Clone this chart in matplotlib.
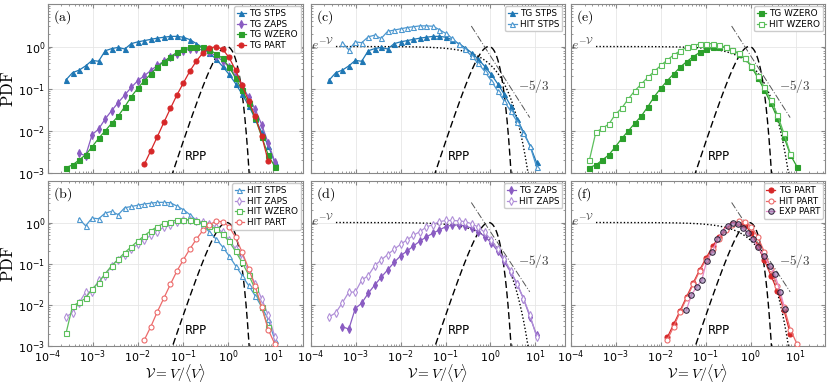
import numpy as np
import matplotlib
matplotlib.use('Agg')
import matplotlib.pyplot as plt

plt.rcParams['mathtext.fontset'] = 'cm'
plt.rcParams['font.family'] = ['DejaVu Sans']

# logarithmic bin centres shared by the simulation PDFs
bins = [2.57e-4, 3.58e-4, 5.00e-4, 6.97e-4, 9.71e-4, 1.35e-3, 1.89e-3, 2.63e-3,
        3.67e-3, 5.12e-3, 7.13e-3, 9.94e-3, 1.39e-2, 1.93e-2, 2.69e-2, 3.75e-2,
        5.24e-2, 7.30e-2, 0.102, 0.142, 0.198, 0.275, 0.384, 0.536, 0.747, 1.04,
        1.45, 2.02, 2.82, 3.94, 5.48, 7.64, 10.7, 14.9]

tg_stps_start = 0
tg_stps = [0.162, 0.240, 0.275, 0.347, 0.468, 0.447, 0.794, 0.891, 0.955, 0.871,
           1.17, 1.29, 1.38, 1.48, 1.58, 1.66, 1.74, 1.74, 1.66, 1.45, 1.17, 0.933,
           0.708, 0.501, 0.339, 0.219, 0.132, 0.0741, 0.0398, 0.0195, 0.00933,
           0.00447, 0.00178]

hit_stps_start = 2
hit_stps = [1.23, 0.83, 1.29, 1.23, 1.70, 1.86, 1.55, 2.29, 2.45, 2.63, 2.82, 2.95,
            3.09, 3.09, 3.02, 2.51, 2.04, 1.55, 1.12, 0.851, 0.589, 0.398, 0.257,
            0.155, 0.0891, 0.0513, 0.0295, 0.0166, 0.00891, 0.00447, 0.00141]

tg_zaps_start = 2
tg_zaps = [0.00295, 0.00257, 0.00813, 0.0110, 0.0191, 0.0302, 0.0468, 0.0708,
           0.107, 0.155, 0.204, 0.269, 0.355, 0.447, 0.550, 0.661, 0.794, 0.871,
           0.871, 0.832, 0.724, 0.603, 0.457, 0.324, 0.204, 0.117, 0.0631, 0.0324,
           0.0141, 0.00513, 0.00186]

hit_zaps_start = 0
hit_zaps = [0.00513, 0.00646, 0.0112, 0.0204, 0.0204, 0.0398, 0.0513, 0.0891,
            0.123, 0.166, 0.224, 0.295, 0.380, 0.490, 0.603, 0.776, 0.891, 1.05,
            1.12, 1.12, 1.10, 1.05, 0.933, 0.776, 0.575, 0.380, 0.229, 0.132,
            0.0676, 0.0324, 0.0141, 0.00562, 0.00170]

tg_wzero_start = 0
tg_wzero = [0.00135, 0.00155, 0.00204, 0.00269, 0.00417, 0.00661, 0.0100, 0.0151,
            0.0224, 0.0372, 0.0646, 0.102, 0.155, 0.224, 0.324, 0.437, 0.575, 0.724,
            0.871, 0.955, 1.00, 0.955, 0.832, 0.676, 0.525, 0.331, 0.178, 0.0933,
            0.0447, 0.0200, 0.00724, 0.00269, 0.00141]

hit_wzero_start = 0
hit_wzero = [0.00204, 0.00933, 0.0115, 0.0145, 0.0245, 0.0347, 0.0575, 0.0891,
             0.129, 0.186, 0.257, 0.355, 0.479, 0.631, 0.794, 0.955, 1.05, 1.15,
             1.17, 1.17, 1.10, 0.955, 0.832, 0.692, 0.525, 0.347, 0.200, 0.107,
             0.0537, 0.0240, 0.00871, 0.00282]

tg_part_start = 12
tg_part = [0.00162, 0.00339, 0.00724, 0.0158, 0.0339, 0.0708, 0.138, 0.263, 0.457,
           0.708, 0.933, 0.98, 0.87, 0.550, 0.275, 0.120, 0.0513, 0.0219, 0.00759,
           0.00191]

hit_part_start = 12
hit_part = [0.00141, 0.00295, 0.00676, 0.0145, 0.0316, 0.0661, 0.126, 0.229, 0.398,
            0.646, 0.891, 1.07, 1.05, 0.794, 0.437, 0.191, 0.0759, 0.0282, 0.00891,
            0.00251, 0.00112]

exp_part_x = [0.0369, 0.0478, 0.0630, 0.0813, 0.105, 0.141, 0.182, 0.236, 0.305,
              0.395, 0.512, 0.662, 0.857, 1.11, 1.44, 1.95, 2.62, 3.39, 4.54, 5.68]
exp_part = [0.00741, 0.0174, 0.0275, 0.0398, 0.117, 0.195, 0.389, 0.603, 0.832,
            0.955, 0.933, 0.724, 0.550, 0.389, 0.251, 0.155, 0.0891, 0.0562,
            0.0209, 0.00813]

# model curves parameters
rpp_peak_x = 0.92
rpp_m = 3.23
rpp_c = 1.60
slope_coef = 0.6

styles = {
    'TG STPS':   dict(color='#1f77b4', marker='^', mfc='#1f77b4'),
    'HIT STPS':  dict(color='#4c97cf', marker='^', mfc='white'),
    'TG ZAPS':   dict(color='#8a5cc2', marker='d', mfc='#8a5cc2'),
    'HIT ZAPS':  dict(color='#b08fd8', marker='d', mfc='white'),
    'TG WZERO':  dict(color='#2ca02c', marker='s', mfc='#2ca02c'),
    'HIT WZERO': dict(color='#5cbf5c', marker='s', mfc='white'),
    'TG PART':   dict(color='#d62728', marker='o', mfc='#d62728'),
    'HIT PART':  dict(color='#ec6a6a', marker='o', mfc='white'),
}

series = {
    'TG STPS': (tg_stps_start, tg_stps),
    'HIT STPS': (hit_stps_start, hit_stps),
    'TG ZAPS': (tg_zaps_start, tg_zaps),
    'HIT ZAPS': (hit_zaps_start, hit_zaps),
    'TG WZERO': (tg_wzero_start, tg_wzero),
    'HIT WZERO': (hit_wzero_start, hit_wzero),
    'TG PART': (tg_part_start, tg_part),
    'HIT PART': (hit_part_start, hit_part),
}

panels = [
    ('(a)', ['TG STPS', 'TG ZAPS', 'TG WZERO', 'TG PART'], False),
    ('(c)', ['TG STPS', 'HIT STPS'], True),
    ('(e)', ['TG WZERO', 'HIT WZERO'], True),
    ('(b)', ['HIT STPS', 'HIT ZAPS', 'HIT WZERO', 'HIT PART'], False),
    ('(d)', ['TG ZAPS', 'HIT ZAPS'], True),
    ('(f)', ['TG PART', 'HIT PART', 'EXP PART'], True),
]

fig = plt.figure(figsize=(8.3, 3.83), dpi=100)
W, H = 830.0, 383.0
col_px = [(47.5, 303.0), (311.0, 564.5), (571.0, 825.0)]
row_px = [(4.0, 173.0), (181.0, 346.0)]

xr = np.logspace(-2.5, 1.3, 600)
rpp_b = rpp_m / (rpp_c * rpp_peak_x ** rpp_c)
rpp = np.exp(rpp_m * np.log(xr / rpp_peak_x) - rpp_b * (xr ** rpp_c - rpp_peak_x ** rpp_c))
xe = np.logspace(np.log10(3.6e-4), 1.2, 400)
xs = np.logspace(np.log10(0.376), np.log10(7.55), 50)

for i, (lab, names, extra) in enumerate(panels):
    r, c = divmod(i, 3)
    x0, x1 = col_px[c]
    y0, y1 = row_px[r]
    ax = fig.add_axes([x0 / W, 1 - y1 / H, (x1 - x0) / W, (y1 - y0) / H])
    ax.set_xscale('log')
    ax.set_yscale('log')
    ax.set_xlim(1e-4, 45)
    ax.set_ylim(1e-3, 10.2)
    ax.grid(True, which='major', color='#e6e6e6', lw=0.6)
    ax.set_axisbelow(True)
    for s in ax.spines.values():
        s.set_color('#888888')
        s.set_linewidth(0.8)
    ax.tick_params(which='both', direction='in', top=True, right=True, color='#888888',
                   labelsize=8, pad=1.5)
    ax.tick_params(which='major', length=3)
    ax.tick_params(which='minor', length=1.5)
    ax.set_xticks([1e-4, 1e-3, 1e-2, 1e-1, 1e0, 1e1])
    ax.set_yticks([1e-3, 1e-2, 1e-1, 1e0])

    ax.plot(xr, rpp, color='black', ls=(0, (5, 2.5)), lw=1.0, zorder=3)
    ax.text(0.11, 2.4e-3, 'RPP', fontsize=8.5, ha='left', va='center')
    if extra:
        ax.plot(xe, np.exp(-xe), color='black', ls=(0, (1, 1.5)), lw=1.0, zorder=3)
        ax.text(3.3e-4, 1.08, r'$e^{-\mathcal{V}}$', fontsize=10, ha='right', va='center',
                color='#444444')
        ax.plot(xs, slope_coef * xs ** (-5.0 / 3.0), color='#555555',
                ls=(0, (7, 2, 1, 2)), lw=0.7, zorder=3)
        ax.text(4.2, 0.115, r'$-5/3$', fontsize=9.5, ha='left', va='center', color='#444444')

    for name in names:
        if name == 'EXP PART':
            ax.plot(exp_part_x, exp_part, color='#e58ac8', lw=0.9, marker='o', ms=4.0,
                    mfc=(0.55, 0.42, 0.66, 0.55), mec='#2a2035', mew=0.7, label=name,
                    zorder=5)
            continue
        start, vals = series[name]
        st = styles[name]
        xv = bins[start:start + len(vals)]
        ax.plot(xv, vals, color=st['color'], lw=0.9, marker=st['marker'], ms=3.6,
                mfc=st['mfc'], mec=st['color'], mew=0.8, label=name, zorder=4)

    ax.legend(loc='upper right', fontsize=6.4, handlelength=1.0, handletextpad=0.4,
              borderpad=0.3, labelspacing=0.2, borderaxespad=0.25, framealpha=1,
              edgecolor='#cccccc', fancybox=True)
    ax.text(0.02, 0.975, r'$\mathrm{' + lab + '}$', transform=ax.transAxes,
            fontsize=10, ha='left', va='top')

    if c == 0:
        ax.set_ylabel(r'$\mathrm{PDF}$', fontsize=12)
        ax.yaxis.set_label_coords(-0.118, 0.5)
    else:
        ax.tick_params(labelleft=False)
    if r == 1:
        ax.set_xlabel(r'$\mathcal{V} = V/\langle V\rangle$', fontsize=10)
        ax.xaxis.set_label_coords(0.5, -0.10)
        ax.xaxis.label.set_va('top')
    else:
        ax.tick_params(labelbottom=False)

fig.savefig('out.png', dpi=100)
